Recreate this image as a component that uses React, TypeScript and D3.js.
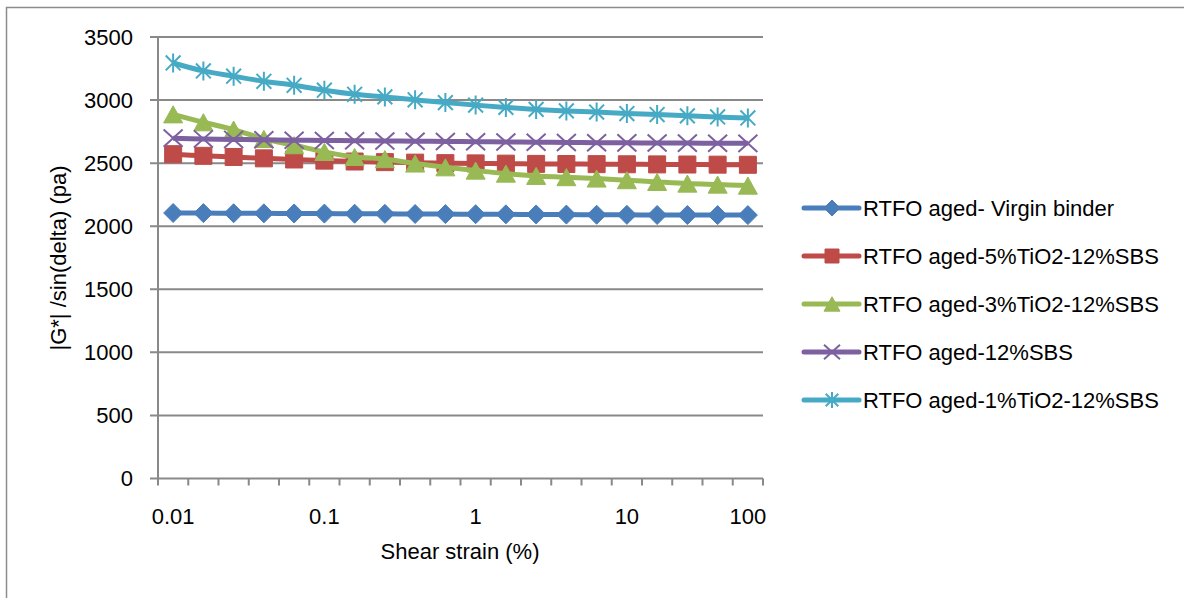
import { useEffect, useRef } from "react";
import * as d3 from "d3";

const WIDTH = 1184;
const HEIGHT = 598;

// strain steps - 20 of them, the sheet only labels a few
const strainLabels = [
  "0.01", "", "", "", "", "0.1", "", "", "", "",
  "1", "", "", "", "", "10", "", "", "", "100",
];

const virginBinder = [
  2105, 2104, 2103, 2102, 2101, 2100, 2099, 2098, 2097, 2096,
  2095, 2094, 2093, 2092, 2091, 2090, 2089, 2089, 2088, 2088,
];
const tio2Five = [
  2571, 2558, 2549, 2538, 2529, 2520, 2513, 2508, 2504, 2500,
  2498, 2496, 2494, 2493, 2492, 2491, 2490, 2489, 2488, 2487,
];
const tio2Three = [
  2887, 2824, 2766, 2692, 2642, 2589, 2549, 2532, 2497, 2467,
  2441, 2417, 2399, 2389, 2378, 2365, 2351, 2338, 2330, 2322,
];
const sbsOnly = [
  2698, 2692, 2688, 2685, 2682, 2680, 2678, 2676, 2674, 2672,
  2670, 2668, 2666, 2664, 2662, 2661, 2660, 2659, 2658, 2657,
];
const tio2One = [
  3294, 3231, 3189, 3149, 3117, 3078, 3046, 3025, 3002, 2980,
  2960, 2942, 2926, 2914, 2905, 2893, 2885, 2875, 2866, 2858,
];

const seriesNames = [
  "RTFO aged- Virgin binder",
  "RTFO aged-5%TiO2-12%SBS",
  "RTFO aged-3%TiO2-12%SBS",
  "RTFO aged-12%SBS",
  "RTFO aged-1%TiO2-12%SBS",
];
const seriesValues = [virginBinder, tio2Five, tio2Three, sbsOnly, tio2One];
const seriesColors = ["#4a7ebb", "#be4b48", "#98b954", "#7d60a0", "#46aac5"];
const seriesMarkers = ["diamond", "square", "triangle", "x", "asterisk"];

const yTicks = [0, 500, 1000, 1500, 2000, 2500, 3000, 3500];

const FONT = "'Liberation Sans', Arial, sans-serif";
const GRID = "#898989";

// plot area box
const LEFT = 158;
const RIGHT = 763;
const TOP = 37;
const BOTTOM = 478.5;

// Excel-style marker outlines, w = full marker width in px
const markerPath = (kind: string, w: number) => {
  const r = w / 2;
  const p = d3.path();
  if (kind === "diamond") {
    p.moveTo(0, -r); p.lineTo(r, 0); p.lineTo(0, r); p.lineTo(-r, 0); p.closePath();
  } else if (kind === "square") {
    p.rect(-r + 1, -r + 1, w - 2, w - 2);
  } else if (kind === "triangle") {
    const h = r * 0.9;
    p.moveTo(0, -h); p.lineTo(r, h); p.lineTo(-r, h); p.closePath();
  } else if (kind === "x") {
    p.moveTo(-r, -r * 0.9); p.lineTo(r, r * 0.9);
    p.moveTo(-r, r * 0.9); p.lineTo(r, -r * 0.9);
  } else {
    const d = r * 0.78;
    p.moveTo(0, -r); p.lineTo(0, r);
    p.moveTo(-d, -d); p.lineTo(d, d);
    p.moveTo(-d, d); p.lineTo(d, -d);
  }
  return p.toString();
};

const isStroked = (kind: string) => kind === "x" || kind === "asterisk";

export default function App() {
  const svgRef = useRef<SVGSVGElement>(null);

  useEffect(() => {
    const svg = d3.select(svgRef.current);
    svg.selectAll("*").remove();

    const x = d3
      .scaleBand<number>()
      .domain(d3.range(strainLabels.length))
      .range([LEFT, RIGHT])
      .padding(0);
    const xc = (i: number) => (x(i) as number) + x.bandwidth() / 2;
    const y = d3.scaleLinear().domain([0, 3500]).range([BOTTOM, TOP]);

    // chart area border (runs off the bottom/right of the picture)
    svg
      .append("rect")
      .attr("x", 6.5)
      .attr("y", 7.5)
      .attr("width", WIDTH + 20)
      .attr("height", HEIGHT + 20)
      .attr("fill", "none")
      .attr("stroke", "#8c8c8c")
      .attr("stroke-width", 1.5);

    // gridlines + y ticks
    const yAxis = svg.append("g");
    yAxis
      .selectAll("line.grid")
      .data(yTicks)
      .join("line")
      .attr("class", "grid")
      .attr("x1", LEFT - 8)
      .attr("x2", RIGHT)
      .attr("y1", (d) => y(d))
      .attr("y2", (d) => y(d))
      .attr("stroke", GRID)
      .attr("stroke-width", 2);
    yAxis
      .selectAll("text")
      .data(yTicks)
      .join("text")
      .attr("x", 133)
      .attr("y", (d) => y(d))
      .attr("dy", "0.36em")
      .attr("text-anchor", "end")
      .style("font", `22px ${FONT}`)
      .attr("fill", "#000")
      .text((d) => d);

    // y axis line
    svg
      .append("line")
      .attr("x1", LEFT)
      .attr("x2", LEFT)
      .attr("y1", TOP)
      .attr("y2", BOTTOM)
      .attr("stroke", GRID)
      .attr("stroke-width", 2);

    // x ticks sit on the category boundaries
    const boundaries = d3.range(strainLabels.length + 1).map((i) => LEFT + i * x.bandwidth());
    svg
      .append("g")
      .selectAll("line")
      .data(boundaries)
      .join("line")
      .attr("x1", (d) => d)
      .attr("x2", (d) => d)
      .attr("y1", BOTTOM)
      .attr("y2", BOTTOM + 7)
      .attr("stroke", GRID)
      .attr("stroke-width", 2);

    svg
      .append("g")
      .selectAll("text")
      .data(strainLabels.map((label, i) => ({ label, i })).filter((d) => d.label !== ""))
      .join("text")
      .attr("x", (d) => xc(d.i))
      .attr("y", 516)
      .attr("dy", "0.36em")
      .attr("text-anchor", "middle")
      .style("font", `22px ${FONT}`)
      .text((d) => d.label);

    // axis titles
    svg
      .append("text")
      .attr("x", 460)
      .attr("y", 551)
      .attr("dy", "0.36em")
      .attr("text-anchor", "middle")
      .style("font", `22px ${FONT}`)
      .text("Shear strain (%)");
    svg
      .append("text")
      .attr("transform", "translate(58,258) rotate(-90)")
      .attr("dy", "0.36em")
      .attr("text-anchor", "middle")
      .style("font", `22px ${FONT}`)
      .text("|G*| /sin(delta) (pa)");

    const line = d3
      .line<number>()
      .x((_, i) => xc(i))
      .y((d) => y(d))
      .curve(d3.curveCatmullRom.alpha(0.5));

    // series: line then markers, in sheet order
    seriesValues.forEach((values, s) => {
      const color = seriesColors[s];
      const kind = seriesMarkers[s];
      const g = svg.append("g");
      g.append("path")
        .attr("d", line(values))
        .attr("fill", "none")
        .attr("stroke", color)
        .attr("stroke-width", 5)
        .attr("stroke-linejoin", "round");
      g.selectAll("path.marker")
        .data(values)
        .join("path")
        .attr("class", "marker")
        .attr("d", markerPath(kind, 19))
        .attr("transform", (d, i) => `translate(${xc(i)},${y(d)})`)
        .attr("fill", isStroked(kind) ? "none" : color)
        .attr("stroke", color)
        .attr("stroke-width", isStroked(kind) ? 2 : 1);
    });

    // legend
    const legend = svg
      .append("g")
      .selectAll("g")
      .data(seriesNames)
      .join("g")
      .attr("transform", (_, i) => `translate(0,${208 + i * 48})`);
    legend
      .append("line")
      .attr("x1", 804)
      .attr("x2", 859)
      .attr("stroke", (_, i) => seriesColors[i])
      .attr("stroke-width", 5)
      .attr("stroke-linecap", "round");
    legend
      .append("path")
      .attr("d", (_, i) => markerPath(seriesMarkers[i], 16))
      .attr("transform", "translate(832,0)")
      .attr("fill", (_, i) => (isStroked(seriesMarkers[i]) ? "none" : seriesColors[i]))
      .attr("stroke", (_, i) => seriesColors[i])
      .attr("stroke-width", (_, i) => (isStroked(seriesMarkers[i]) ? 2 : 1));
    legend
      .append("text")
      .attr("x", 863)
      .attr("dy", "0.36em")
      .style("font", `22px ${FONT}`)
      .text((d) => d);
  }, []);

  return (
    <svg
      ref={svgRef}
      width={WIDTH}
      height={HEIGHT}
      style={{ position: "absolute", left: 0, top: 0, background: "#fff" }}
    ></svg>
  );
}
